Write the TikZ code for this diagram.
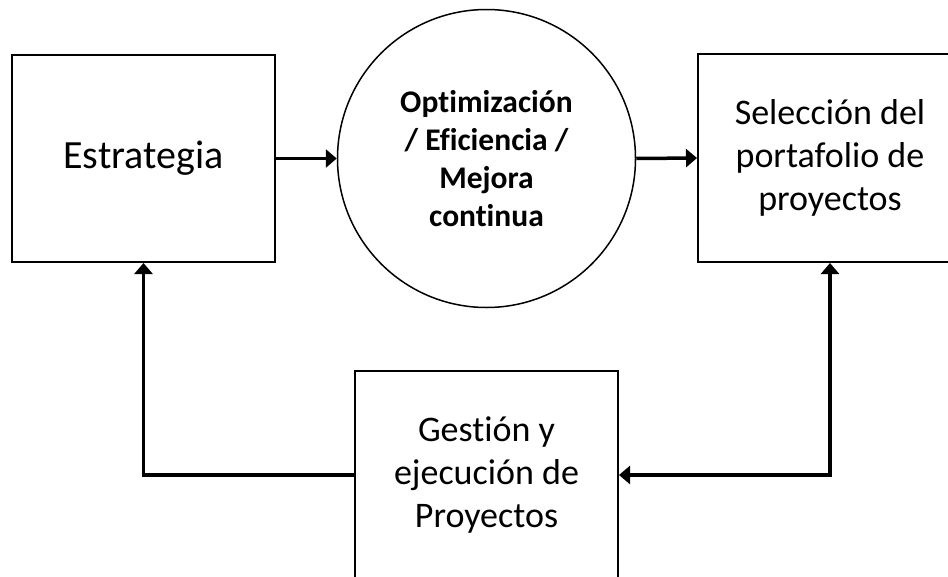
\documentclass[tikz,border=0pt]{standalone}
\usepackage{fontspec}
\setmainfont[Ligatures=NoCommon]{Carlito}
\usetikzlibrary{arrows.meta}
\begin{document}
\begin{tikzpicture}[x=1pt, y=-1pt,
    caja/.style={draw, line width=2pt, align=center, inner sep=0pt,
        font=\fontsize{36}{43}\selectfont},
    flecha/.style={line width=3.5pt, -{Triangle[width=18pt,length=11pt]}}]
        \useasboundingbox (0,0) rectangle (948,576);
        \clip (0,0) rectangle (948,576);
        \node[caja, minimum width=263pt, minimum height=207pt, font=\fontsize{40}{48}\selectfont] (estr) at (143.5,158.5) {Estrategia};
        \node[draw, circle, line width=1.5pt, minimum size=298pt, inner sep=0pt, align=center,
            font=\bfseries\fontsize{31.5}{38}\selectfont] (opt) at (486.5,158.5)
            {Optimización\\/ Eficiencia /\\Mejora\\continua};
        \node[caja, minimum width=264pt, minimum height=208pt] (sel) at (830,158) {Selección del\\portafolio de\\proyectos};
        \node[caja, minimum width=263pt, minimum height=208pt] (gest) at (486.5,475) {Gestión y\\ejecución de\\Proyectos};
        \draw[flecha] (estr.east) -- (opt.west);
        \draw[flecha] (opt.east) -- (sel.west);
        \draw[flecha] (gest.west) -| (estr.south);
        \draw[flecha, {Triangle[width=18pt,length=11pt]}-{Triangle[width=18pt,length=11pt]}] (sel.south) |- (gest.east);
\end{tikzpicture}
\end{document}
